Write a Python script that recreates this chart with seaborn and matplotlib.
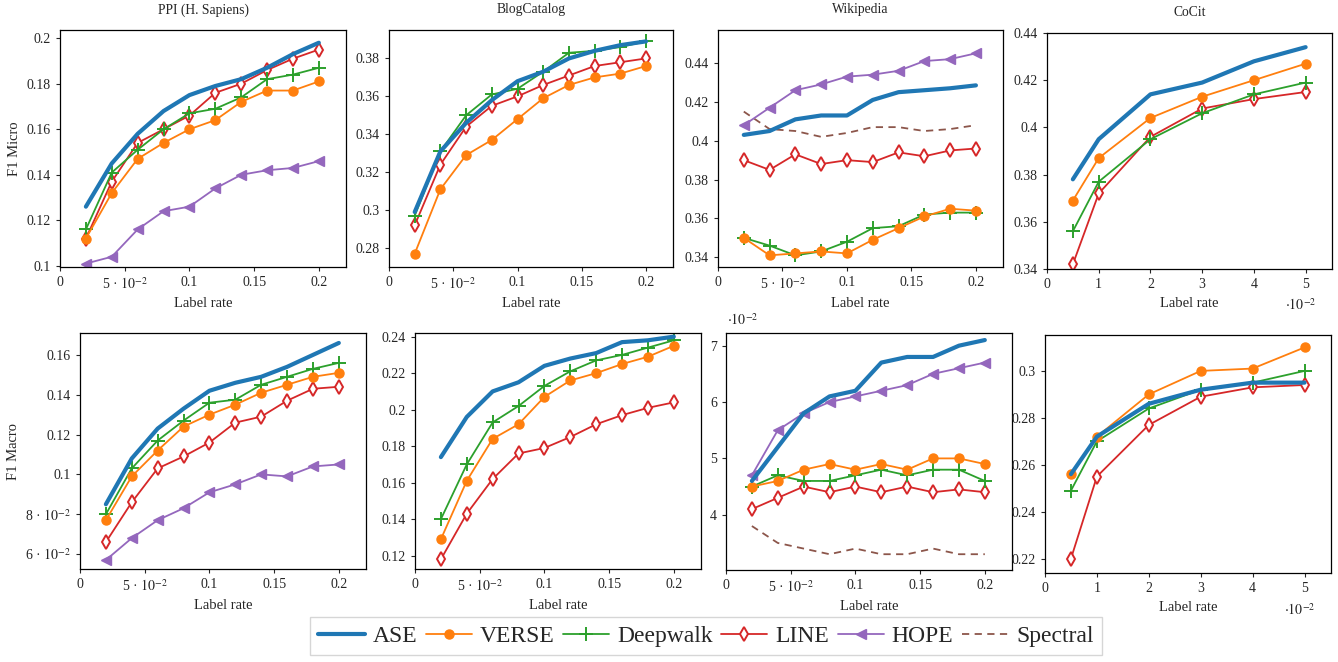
import numpy as np
import pandas as pd
import matplotlib
matplotlib.use("Agg")
import matplotlib.pyplot as plt
from matplotlib.ticker import FuncFormatter, FixedLocator
from matplotlib.lines import Line2D
import seaborn as sns

# ---- data ----
rate = [0.02, 0.04, 0.06, 0.08, 0.10, 0.12, 0.14, 0.16, 0.18, 0.20]
rate_cocit = [0.005, 0.01, 0.02, 0.03, 0.04, 0.05]

# F1 micro
ppi_micro_ase = [0.126, 0.145, 0.158, 0.168, 0.175, 0.179, 0.182, 0.187, 0.193, 0.198]
ppi_micro_verse = [0.112, 0.132, 0.147, 0.154, 0.160, 0.164, 0.172, 0.177, 0.177, 0.181]
ppi_micro_deepwalk = [0.116, 0.141, 0.151, 0.160, 0.167, 0.169, 0.174, 0.182, 0.184, 0.187]
ppi_micro_line = [0.112, 0.137, 0.154, 0.160, 0.166, 0.176, 0.180, 0.186, 0.191, 0.195]
ppi_micro_hope = [0.101, 0.104, 0.116, 0.124, 0.126, 0.134, 0.140, 0.142, 0.143, 0.146]

blog_micro_ase = [0.299, 0.331, 0.346, 0.358, 0.368, 0.373, 0.380, 0.384, 0.387, 0.389]
blog_micro_verse = [0.277, 0.311, 0.329, 0.337, 0.348, 0.359, 0.366, 0.370, 0.372, 0.376]
blog_micro_deepwalk = [0.297, 0.331, 0.350, 0.361, 0.364, 0.373, 0.383, 0.384, 0.386, 0.389]
blog_micro_line = [0.292, 0.324, 0.344, 0.355, 0.360, 0.366, 0.371, 0.376, 0.378, 0.380]

wiki_micro_ase = [0.403, 0.405, 0.411, 0.413, 0.413, 0.421, 0.425, 0.426, 0.427, 0.4285]
wiki_micro_verse = [0.350, 0.341, 0.342, 0.343, 0.342, 0.349, 0.355, 0.361, 0.365, 0.364]
wiki_micro_deepwalk = [0.350, 0.346, 0.341, 0.343, 0.348, 0.355, 0.356, 0.362, 0.363, 0.363]
wiki_micro_line = [0.390, 0.385, 0.393, 0.388, 0.390, 0.389, 0.394, 0.392, 0.395, 0.396]
wiki_micro_hope = [0.408, 0.417, 0.426, 0.429, 0.433, 0.434, 0.436, 0.441, 0.442, 0.445]
wiki_micro_spectral = [0.415, 0.406, 0.405, 0.402, 0.404, 0.407, 0.407, 0.405, 0.406, 0.408]

cocit_micro_ase = [0.378, 0.395, 0.414, 0.419, 0.428, 0.434]
cocit_micro_verse = [0.369, 0.387, 0.404, 0.413, 0.420, 0.427]
cocit_micro_deepwalk = [0.356, 0.377, 0.395, 0.406, 0.414, 0.419]
cocit_micro_line = [0.342, 0.372, 0.396, 0.408, 0.412, 0.415]

# F1 macro
ppi_macro_ase = [0.085, 0.108, 0.123, 0.133, 0.142, 0.146, 0.149, 0.154, 0.160, 0.166]
ppi_macro_verse = [0.077, 0.099, 0.112, 0.124, 0.130, 0.135, 0.141, 0.145, 0.149, 0.151]
ppi_macro_deepwalk = [0.080, 0.103, 0.117, 0.127, 0.136, 0.1375, 0.145, 0.149, 0.153, 0.156]
ppi_macro_line = [0.066, 0.086, 0.103, 0.109, 0.116, 0.126, 0.129, 0.137, 0.143, 0.144]
ppi_macro_hope = [0.057, 0.068, 0.077, 0.083, 0.091, 0.095, 0.100, 0.099, 0.104, 0.105]

blog_macro_ase = [0.174, 0.196, 0.210, 0.215, 0.224, 0.228, 0.231, 0.237, 0.238, 0.240]
blog_macro_verse = [0.129, 0.161, 0.184, 0.192, 0.207, 0.216, 0.220, 0.225, 0.229, 0.235]
blog_macro_deepwalk = [0.140, 0.170, 0.193, 0.202, 0.213, 0.221, 0.227, 0.230, 0.234, 0.238]
blog_macro_line = [0.118, 0.143, 0.162, 0.176, 0.179, 0.185, 0.192, 0.197, 0.201, 0.204]

wiki_macro_ase = [0.046, 0.052, 0.058, 0.061, 0.062, 0.067, 0.068, 0.068, 0.070, 0.071]
wiki_macro_verse = [0.045, 0.046, 0.048, 0.049, 0.048, 0.049, 0.048, 0.050, 0.050, 0.049]
wiki_macro_deepwalk = [0.045, 0.047, 0.046, 0.046, 0.047, 0.048, 0.047, 0.048, 0.048, 0.046]
wiki_macro_line = [0.041, 0.043, 0.045, 0.044, 0.045, 0.044, 0.045, 0.044, 0.0445, 0.044]
wiki_macro_hope = [0.047, 0.055, 0.058, 0.060, 0.061, 0.062, 0.063, 0.065, 0.066, 0.067]
wiki_macro_spectral = [0.038, 0.035, 0.034, 0.033, 0.034, 0.033, 0.033, 0.034, 0.033, 0.033]

cocit_macro_ase = [0.256, 0.272, 0.286, 0.292, 0.295, 0.295]
cocit_macro_verse = [0.256, 0.272, 0.290, 0.300, 0.301, 0.310]
cocit_macro_deepwalk = [0.249, 0.270, 0.284, 0.292, 0.295, 0.300]
cocit_macro_line = [0.220, 0.255, 0.277, 0.289, 0.293, 0.294]

# ---- style ----
sns.set_style("ticks")
plt.rcParams['font.family'] = ['Liberation Serif', 'DejaVu Serif']
plt.rcParams['mathtext.fontset'] = 'stix'
plt.rcParams['axes.edgecolor'] = 'black'

C_ASE, C_VERSE, C_DW, C_LINE, C_HOPE, C_SPEC = (
    '#1f77b4', '#ff7f0e', '#2ca02c', '#d62728', '#9467bd', '#8c564b')

styles = {
    'ASE': dict(color=C_ASE, lw=3.0, marker=None),
    'VERSE': dict(color=C_VERSE, lw=1.3, marker='o', ms=6.5, mec=C_VERSE, mew=1.0),
    'Deepwalk': dict(color=C_DW, lw=1.3, marker='+', ms=10, mec=C_DW, mew=1.4),
    'LINE': dict(color=C_LINE, lw=1.3, marker='d', ms=7.5, mfc='white', mec=C_LINE, mew=1.4),
    'HOPE': dict(color=C_HOPE, lw=1.3, marker='<', ms=7.5, mec=C_HOPE, mew=1.0),
    'Spectral': dict(color=C_SPEC, lw=1.3, ls=(0, (4, 3)), marker=None),
}


def fmt_rate(v, pos=None):
    if abs(v) < 1e-9:
        return '0'
    if abs(v - 0.05) < 1e-9:
        return r'5 · $10^{-2}$'
    return ('%g' % round(v, 4))


def fmt_y(v, pos=None):
    if abs(v) < 1e-9:
        return '0'
    if v < 0.095:
        return r'%d · $10^{-2}$' % round(v * 100)
    return ('%g' % round(v, 4))


fig = plt.figure(figsize=(13.38, 6.62), dpi=100)
W, H = 1338.0, 662.0


def add_ax(x0, x1, y0, y1):
    return fig.add_axes([x0 / W, 1 - y1 / H, (x1 - x0) / W, (y1 - y0) / H])


panels = [
    # rect, x, series, ylim, yticks, title, ylabel, kind
    ((60, 346, 30, 267), rate,
     dict(ASE=ppi_micro_ase, VERSE=ppi_micro_verse, Deepwalk=ppi_micro_deepwalk,
          LINE=ppi_micro_line, HOPE=ppi_micro_hope),
     (0.0995, 0.2036), np.arange(0.10, 0.2001, 0.02), 'PPI (H. Sapiens)', 'F1 Micro', 'rate'),
    ((389, 673, 30, 267), rate,
     dict(ASE=blog_micro_ase, VERSE=blog_micro_verse, Deepwalk=blog_micro_deepwalk,
          LINE=blog_micro_line),
     (0.270, 0.395), np.arange(0.28, 0.3801, 0.02), 'BlogCatalog', None, 'rate'),
    ((718, 1003, 30, 267), rate,
     dict(ASE=wiki_micro_ase, VERSE=wiki_micro_verse, Deepwalk=wiki_micro_deepwalk,
          LINE=wiki_micro_line, HOPE=wiki_micro_hope, Spectral=wiki_micro_spectral),
     (0.335, 0.457), np.arange(0.34, 0.4401, 0.02), 'Wikipedia', None, 'rate'),
    ((1047, 1332, 33, 269), rate_cocit,
     dict(ASE=cocit_micro_ase, VERSE=cocit_micro_verse, Deepwalk=cocit_micro_deepwalk,
          LINE=cocit_micro_line),
     (0.34, 0.44), np.arange(0.34, 0.4401, 0.02), 'CoCit', None, 'cocit'),
    ((80, 366, 333, 569), rate,
     dict(ASE=ppi_macro_ase, VERSE=ppi_macro_verse, Deepwalk=ppi_macro_deepwalk,
          LINE=ppi_macro_line, HOPE=ppi_macro_hope),
     (0.0525, 0.171), np.arange(0.06, 0.1601, 0.02), None, 'F1 Macro', 'rate'),
    ((415, 701, 333, 569), rate,
     dict(ASE=blog_macro_ase, VERSE=blog_macro_verse, Deepwalk=blog_macro_deepwalk,
          LINE=blog_macro_line),
     (0.1127, 0.242), np.arange(0.12, 0.2401, 0.02), None, None, 'rate'),
    ((726, 1012, 333, 570), rate,
     dict(ASE=wiki_macro_ase, VERSE=wiki_macro_verse, Deepwalk=wiki_macro_deepwalk,
          LINE=wiki_macro_line, HOPE=wiki_macro_hope, Spectral=wiki_macro_spectral),
     (0.0302, 0.07225), np.arange(0.04, 0.0701, 0.01), None, None, 'wiki'),
    ((1045, 1331, 335, 573), rate_cocit,
     dict(ASE=cocit_macro_ase, VERSE=cocit_macro_verse, Deepwalk=cocit_macro_deepwalk,
          LINE=cocit_macro_line),
     (0.2139, 0.3153), np.arange(0.22, 0.3001, 0.02), None, None, 'cocit'),
]

order = ['ASE', 'VERSE', 'Deepwalk', 'LINE', 'HOPE', 'Spectral']
draw_order = ['Spectral', 'HOPE', 'LINE', 'Deepwalk', 'VERSE', 'ASE']

for rect, xs, series, ylim, yticks, title, ylabel, kind in panels:
    ax = add_ax(*rect)
    for name in draw_order:
        if name not in series:
            continue
        st = dict(styles[name])
        df = pd.DataFrame({'x': xs, 'y': series[name]})
        sns.lineplot(data=df, x='x', y='y', ax=ax, label=name, **st)
    if ax.get_legend() is not None:
        ax.get_legend().remove()
    ax.set_ylim(*ylim)
    ax.yaxis.set_major_locator(FixedLocator(yticks))
    if kind == 'cocit':
        ax.set_xlim(0, 0.0551)
        ax.xaxis.set_major_locator(FixedLocator([0, 0.01, 0.02, 0.03, 0.04, 0.05]))
        ax.xaxis.set_major_formatter(FuncFormatter(lambda v, p: '%d' % round(v * 100)))
        ax.text(0.89, -0.155, r'$\cdot10^{-2}$', transform=ax.transAxes,
                ha='center', va='center', fontsize=10)
    else:
        ax.set_xlim(0, 0.221)
        ax.xaxis.set_major_locator(FixedLocator([0, 0.05, 0.1, 0.15, 0.2]))
        ax.xaxis.set_major_formatter(FuncFormatter(fmt_rate))
    if kind == 'wiki':
        ax.yaxis.set_major_formatter(FuncFormatter(lambda v, p: '%d' % round(v * 100)))
        ax.text(0.06, 1.055, r'$\cdot10^{-2}$', transform=ax.transAxes,
                ha='center', va='center', fontsize=10)
    else:
        ax.yaxis.set_major_formatter(FuncFormatter(fmt_y))
    ax.tick_params(labelsize=10, direction='out', width=0.8, length=3)
    ax.set_xlabel('Label rate', fontsize=10.5)
    ax.set_ylabel(ylabel if ylabel else '', fontsize=10.5)
    if title:
        ax.set_title(title, fontsize=9.8, pad=12)
    for s in ax.spines.values():
        s.set_visible(True)
        s.set_linewidth(0.9)

handles = []
for name in order:
    st = dict(styles[name])
    kw = dict(color=st.pop('color'), lw=st.pop('lw'))
    if 'ls' in st:
        kw['ls'] = st.pop('ls')
    m = st.pop('marker')
    handles.append(Line2D([], [], marker=m, label=name, **kw, **st))

fig.legend(handles=handles, labels=order, loc='center', ncol=6,
           bbox_to_anchor=(706 / W, 1 - 636 / H), fontsize=17, frameon=True,
           fancybox=False, edgecolor='#cccccc', handlelength=1.95,
           handletextpad=0.35, columnspacing=0.35, borderpad=0.35)

fig.savefig('out.png', dpi=100)
